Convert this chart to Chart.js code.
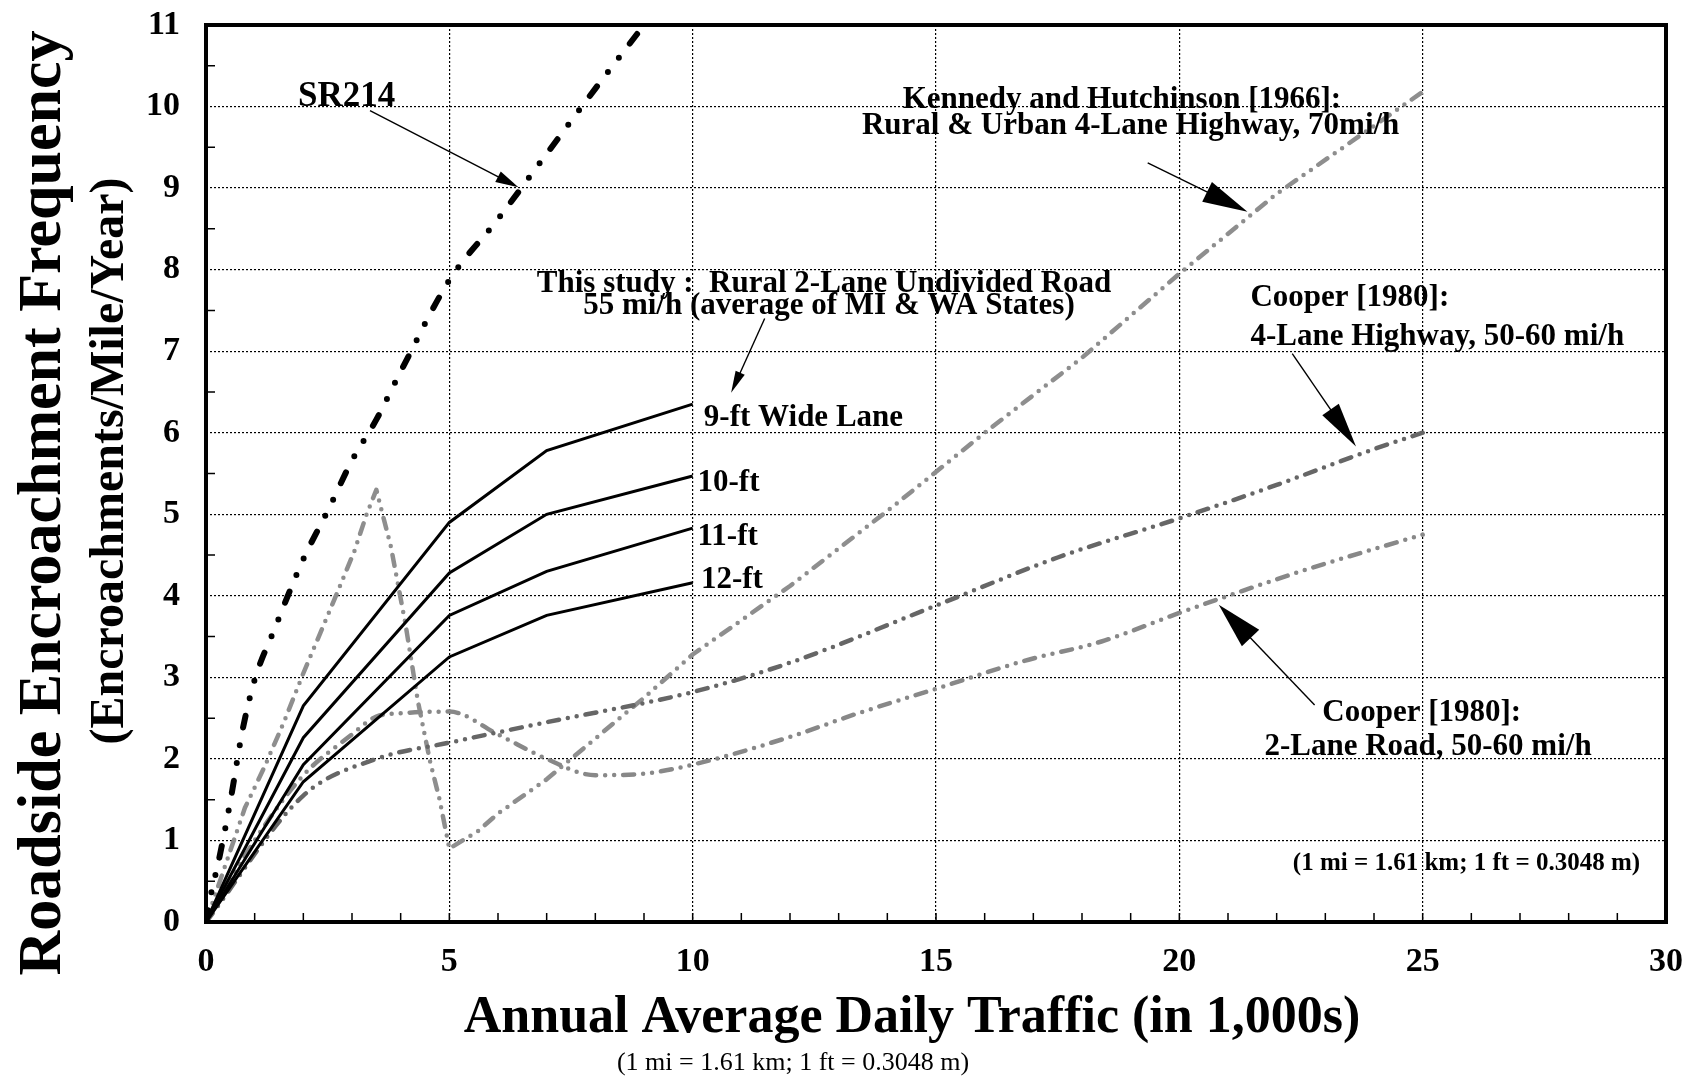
<!DOCTYPE html>
<html>
<head>
<meta charset="utf-8">
<script src="https://cdn.jsdelivr.net/npm/chart.js@4.4.0/dist/chart.umd.min.js"></script>
<style>
    html, body { margin: 0; padding: 0; background: #fff; }
    canvas { display: block; }
</style>
</head>
<body>
<canvas id="grafico" width="1704" height="1077"></canvas>
<script>
// Dados (AADT em milhares x invasões/milha/ano)
const xTicks = [0, 5, 10, 15, 20, 25, 30];
const yTicks = [0, 1, 2, 3, 4, 5, 6, 7, 8, 9, 10, 11];

const laneX = [0, 2, 5, 7, 10];
const lane9 = [0, 2.65, 4.9, 5.78, 6.35];
const lane10 = [0, 2.26, 4.28, 5.0, 5.47];
const lane11 = [0, 1.93, 3.76, 4.3, 4.83];
const lane12 = [0, 1.72, 3.25, 3.76, 4.16];

const sr214X = [0, 0.12, 0.25, 0.5, 0.75, 1, 1.4, 2, 2.5, 3, 3.5, 4, 5, 6, 7, 8, 9];
const sr214Y = [0, 0.39, 0.72, 1.48, 2.35, 2.97, 3.58, 4.45, 5.04, 5.66, 6.16, 6.75, 7.87, 8.62, 9.42, 10.22, 11.0];

const kennedyX = [0, 0.8, 1.2, 1.6, 2, 2.6, 3.05, 3.3, 3.5, 3.8, 4.1, 4.35, 4.6, 4.8, 5, 5.6, 6, 7, 8, 9, 10, 12, 14, 16, 18, 20, 22, 25];
const kennedyY = [0, 1.4, 1.9, 2.45, 3.05, 3.9, 4.55, 5.0, 5.3, 4.6, 3.65, 2.72, 1.98, 1.5, 0.9, 1.12, 1.33, 1.75, 2.25, 2.75, 3.28, 4.12, 5.04, 6.0, 6.92, 7.95, 8.93, 10.18];

const cooper4X = [0, 2, 3.5, 5, 7, 10, 12, 15, 17.5, 20, 22, 24, 25];
const cooper4Y = [0, 1.55, 2.0, 2.2, 2.45, 2.82, 3.18, 3.88, 4.47, 4.95, 5.36, 5.8, 6.0];

const cooper2X = [0, 1, 2, 3, 3.5, 4, 5, 6, 7, 8, 9, 10, 12, 13.4, 15, 16.8, 18.4, 20, 21, 22.6, 25];
const cooper2Y = [0, 1.0, 1.8, 2.3, 2.52, 2.56, 2.58, 2.3, 2.0, 1.8, 1.82, 1.93, 2.27, 2.56, 2.86, 3.2, 3.44, 3.79, 4.0, 4.32, 4.75];

const FONTE = '"Liberation Serif", "Times New Roman", serif';

function pares(xs, ys) {
    return xs.map((x, i) => ({ x: x, y: ys[i] }));
}

function linhaSolida(ys) {
    return {
        data: pares(laneX, ys),
        borderColor: "#000",
        borderWidth: 3,
        pointRadius: 0,
        tension: 0,
    };
}

function linhaTracoPonto(xs, ys, cor, largura, traco, suave) {
    return {
        data: pares(xs, ys),
        borderColor: cor,
        borderWidth: largura,
        borderDash: traco,
        borderCapStyle: "round",
        borderJoinStyle: "round",
        pointRadius: 0,
        cubicInterpolationMode: suave ? "monotone" : "default",
        tension: 0,
    };
}

// Textos e setas (posições em unidades dos eixos)
const textos = [
    { t: "SR214", x: 2.89, y: 10.12, size: 35, align: "center" },
    { t: "This study :  Rural 2-Lane Undivided Road", x: 12.7, y: 7.83, size: 31, align: "center" },
    { t: "55 mi/h (average of MI & WA States)", x: 12.8, y: 7.55, size: 31, align: "center" },
    { t: "9-ft Wide Lane", x: 10.23, y: 6.18, size: 31, align: "left" },
    { t: "10-ft", x: 10.1, y: 5.38, size: 31, align: "left" },
    { t: "11-ft", x: 10.1, y: 4.72, size: 31, align: "left" },
    { t: "12-ft", x: 10.17, y: 4.2, size: 31, align: "left" },
    { t: "Kennedy and Hutchinson [1966]:", x: 18.82, y: 10.08, size: 31, align: "center" },
    { t: "Rural & Urban 4-Lane Highway, 70mi/h", x: 19.0, y: 9.76, size: 31, align: "center" },
    { t: "Cooper [1980]:", x: 21.46, y: 7.65, size: 31, align: "left" },
    { t: "4-Lane Highway, 50-60 mi/h", x: 21.46, y: 7.17, size: 31, align: "left" },
    { t: "Cooper [1980]:", x: 24.98, y: 2.56, size: 31, align: "center" },
    { t: "2-Lane Road, 50-60 mi/h", x: 25.11, y: 2.15, size: 31, align: "center" },
    { t: "(1 mi = 1.61 km; 1 ft = 0.3048 m)", x: 25.9, y: 0.72, size: 25, align: "center" },
];

const setas = [
    { x1: 3.37, y1: 9.95, x2: 6.42, y2: 9.01, len: 23, hw: 6 },
    { x1: 11.48, y1: 7.4, x2: 10.79, y2: 6.49, len: 22, hw: 5 },
    { x1: 19.35, y1: 9.31, x2: 21.4, y2: 8.71, len: 45, hw: 11 },
    { x1: 22.32, y1: 6.97, x2: 23.63, y2: 5.83, len: 45, hw: 10 },
    { x1: 22.78, y1: 2.66, x2: 20.81, y2: 3.89, len: 46, hw: 12 },
];

function desenhaSeta(ctx, x1, y1, x2, y2, len, hw) {
    const a = Math.atan2(y2 - y1, x2 - x1);
    const c = Math.cos(a), s = Math.sin(a);
    ctx.beginPath();
    ctx.moveTo(x1, y1);
    ctx.lineTo(x2 - c * len * 0.7, y2 - s * len * 0.7);
    ctx.stroke();
    ctx.beginPath();
    ctx.moveTo(x2, y2);
    ctx.lineTo(x2 - c * len + s * hw, y2 - s * len - c * hw);
    ctx.lineTo(x2 - c * len - s * hw, y2 - s * len + c * hw);
    ctx.closePath();
    ctx.fill();
}

const fundoBranco = {
    id: "fundoBranco",
    beforeDraw(chart) {
        const ctx = chart.ctx;
        ctx.save();
        ctx.fillStyle = "#fff";
        ctx.fillRect(0, 0, chart.width, chart.height);
        ctx.restore();
    },
};

const molduraETextos = {
    id: "molduraETextos",
    afterDraw(chart) {
        const ctx = chart.ctx;
        const a = chart.chartArea;
        const sx = chart.scales.x, sy = chart.scales.y;
        ctx.save();

        // marcas menores para dentro
        ctx.strokeStyle = "#000";
        ctx.lineWidth = 1.5;
        ctx.beginPath();
        for (let v = 1; v < 30; v++) {
            const px = sx.getPixelForValue(v);
            ctx.moveTo(px, a.bottom);
            ctx.lineTo(px, a.bottom - 9);
        }
        for (let v = 0.5; v < 11; v += 1) {
            const py = sy.getPixelForValue(v);
            ctx.moveTo(a.left, py);
            ctx.lineTo(a.left + 9, py);
        }
        ctx.stroke();

        // moldura
        ctx.lineWidth = 4;
        ctx.strokeRect(a.left, a.top, a.right - a.left, a.bottom - a.top);

        // anotações
        ctx.fillStyle = "#000";
        ctx.textBaseline = "middle";
        textos.forEach((o) => {
            ctx.font = "bold " + o.size + "px " + FONTE;
            ctx.textAlign = o.align;
            ctx.fillText(o.t, sx.getPixelForValue(o.x), sy.getPixelForValue(o.y));
        });
        ctx.lineWidth = 1.4;
        setas.forEach((s) => {
            desenhaSeta(ctx,
                sx.getPixelForValue(s.x1), sy.getPixelForValue(s.y1),
                sx.getPixelForValue(s.x2), sy.getPixelForValue(s.y2),
                s.len, s.hw);
        });

        // títulos dos eixos
        ctx.textAlign = "center";
        ctx.save();
        ctx.translate(44, 503);
        ctx.rotate(-Math.PI / 2);
        ctx.font = "bold 62px " + FONTE;
        ctx.fillText("Roadside Encroachment Frequency", 0, 0);
        ctx.restore();
        ctx.save();
        ctx.translate(111, 461);
        ctx.rotate(-Math.PI / 2);
        ctx.font = "bold 48px " + FONTE;
        ctx.fillText("(Encroachments/Mile/Year)", 0, 0);
        ctx.restore();

        ctx.font = "bold 52px " + FONTE;
        ctx.fillText("Annual Average Daily Traffic (in 1,000s)", 912, 1019);
        ctx.font = "26px " + FONTE;
        ctx.fillText("(1 mi = 1.61 km; 1 ft = 0.3048 m)", 793, 1063);
        ctx.restore();
    },
};

const eixoFonte = { family: FONTE, size: 34, weight: "bold" };

new Chart(document.getElementById("grafico"), {
    type: "line",
    data: {
        datasets: [
            linhaSolida(lane9),
            linhaSolida(lane10),
            linhaSolida(lane11),
            linhaSolida(lane12),
            linhaTracoPonto(sr214X, sr214Y, "#000", 6, [12, 18, 0, 18, 0, 18], true),
            linhaTracoPonto(cooper4X, cooper4Y, "#666", 4.5, [11, 9, 0, 9, 0, 9], true),
            linhaTracoPonto(cooper2X, cooper2Y, "#888", 4.5, [11, 9, 0, 9, 0, 9], true),
            linhaTracoPonto(kennedyX, kennedyY, "#8e8e8e", 4.5, [11, 9, 0, 9, 0, 9], false),
        ],
    },
    options: {
        responsive: false,
        animation: false,
        devicePixelRatio: 1,
        layout: { padding: { top: 25, right: 38, left: 0, bottom: 0 } },
        plugins: { legend: { display: false }, tooltip: { enabled: false } },
        scales: {
            x: {
                type: "linear",
                min: 0,
                max: 30,
                afterBuildTicks: (scale) => { scale.ticks = xTicks.map((v) => ({ value: v })); },
                afterFit: (scale) => {
                    scale.height = 155;
                    scale.paddingLeft = 0;
                    scale.paddingRight = 0;
                },
                ticks: { font: eixoFonte, color: "#000", padding: 20 },
                grid: { color: "#000", lineWidth: 1.2, drawTicks: false },
                border: { display: false, dash: [2, 2] },
            },
            y: {
                type: "linear",
                min: 0,
                max: 11,
                afterBuildTicks: (scale) => { scale.ticks = yTicks.map((v) => ({ value: v })); },
                afterFit: (scale) => {
                    scale.width = 206;
                    scale.paddingTop = 0;
                    scale.paddingBottom = 0;
                },
                ticks: { font: eixoFonte, color: "#000", padding: 26 },
                grid: { color: "#000", lineWidth: 1.2, drawTicks: false },
                border: { display: false, dash: [2, 2] },
            },
        },
    },
    plugins: [fundoBranco, molduraETextos],
});
</script>
</body>
</html>
